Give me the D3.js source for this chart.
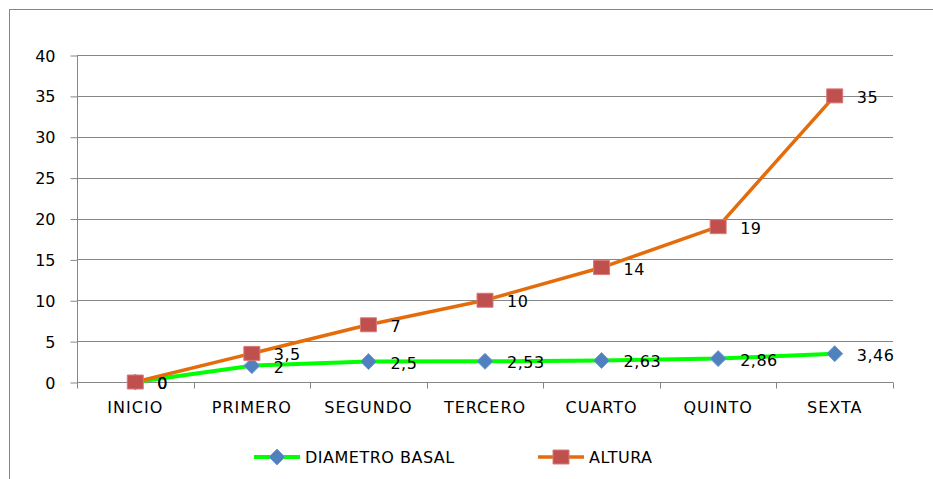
<!DOCTYPE html>
<html>
<head>
<meta charset="utf-8">
<script src="https://cdn.jsdelivr.net/npm/d3@7"></script>
<style>
  body { margin: 0; background: #fff; }
  svg text { font-family: "DejaVu Sans", Verdana, sans-serif; font-size: 16px; fill: #000; }
</style>
</head>
<body>
<svg id="chart" width="933" height="479"></svg>
<script>
// data
var etapas = ["INICIO", "PRIMERO", "SEGUNDO", "TERCERO", "CUARTO", "QUINTO", "SEXTA"];
var diametroBasal = [0, 2, 2.5, 2.53, 2.63, 2.86, 3.46];
var altura = [0, 3.5, 7, 10, 14, 19, 35];
var yTicks = [0, 5, 10, 15, 20, 25, 30, 35, 40];

var margin = {top: 55, right: 40, bottom: 97, left: 77};
var width = 933, height = 479;

var palette = {
    grid: "#868686",
    green: "#00ff00",
    orange: "#e46c0a",
    blue: "#4f81bd",
    red: "#c0504d",
};

var svg = d3.select("#chart");

// outer chart frame (only top / left visible)
svg.append("rect")
    .attr("x", 9.5).attr("y", 9.5)
    .attr("width", 1000).attr("height", 600)
    .attr("fill", "none")
    .attr("stroke", palette.grid);

var g = svg.append("g").attr("transform", `translate(${margin.left},${margin.top})`);
var w = width - margin.left - margin.right;
var h = height - margin.top - margin.bottom;

var x = d3.scaleBand().domain(etapas).range([0, w]);
var y = d3.scaleLinear().domain([0, 40]).range([h, 0]);

// horizontal grid
g.append("g")
    .selectAll("line")
    .data(yTicks.slice(1))
    .enter().append("line")
    .attr("x1", 0).attr("x2", w)
    .attr("y1", d => Math.round(y(d)) + 0.5).attr("y2", d => Math.round(y(d)) + 0.5)
    .attr("stroke", palette.grid);

// y axis
var yAxis = g.append("g")
    .attr("transform", "translate(0.5,0.5)")
    .call(d3.axisLeft(y).tickValues(yTicks).tickSize(7).tickPadding(15));
yAxis.select(".domain").attr("stroke", palette.grid).attr("d", `M0,${h}V0`);
yAxis.selectAll(".tick line").attr("stroke", palette.grid);
yAxis.selectAll("text").style("font-size", "16px").attr("dy", "0.35em");

// x axis, ticks on category boundaries
var xAxis = g.append("g").attr("transform", `translate(0,${Math.round(h) + 0.5})`);
xAxis.append("line").attr("x1", 0).attr("x2", w).attr("stroke", palette.grid);
xAxis.selectAll(".bt")
    .data(d3.range(etapas.length + 1))
    .enter().append("line")
    .attr("x1", i => Math.round(i * x.step()) + 0.5)
    .attr("x2", i => Math.round(i * x.step()) + 0.5)
    .attr("y1", 0).attr("y2", 6)
    .attr("stroke", palette.grid);
xAxis.selectAll("text")
    .data(etapas)
    .enter().append("text")
    .attr("x", d => x(d) + x.bandwidth() / 2)
    .attr("y", 30)
    .attr("text-anchor", "middle")
    .style("letter-spacing", "1px")
    .text(d => d);

var cx = (d, i) => x(etapas[i]) + x.bandwidth() / 2;
var line = d3.line().x(cx).y(d => y(d));
var fmt = v => String(v).replace(".", ",");

function drawSeries(values, lineColor, lineWidth, marker) {
    var s = g.append("g");
    s.append("path")
        .datum(values)
        .attr("d", line)
        .attr("fill", "none")
        .attr("stroke", lineColor)
        .attr("stroke-width", lineWidth)
        .attr("stroke-linejoin", "round");
    s.selectAll(".m")
        .data(values)
        .enter().append("path")
        .attr("transform", (d, i) => `translate(${cx(d, i)},${y(d)})`)
        .attr("d", marker.path)
        .attr("fill", marker.color)
        .attr("stroke", marker.stroke)
        .attr("stroke-width", 1);
    s.selectAll(".lbl")
        .data(values)
        .enter().append("text")
        .attr("x", (d, i) => cx(d, i) + 22)
        .attr("y", d => y(d) + 7)
        .style("letter-spacing", "0.5px")
        .text(fmt);
}

var diamond = {path: "M0,-8L8,0L0,8L-8,0Z", color: palette.blue, stroke: "#6f9bd0"};
var square = {path: "M-8,-7H8V7H-8Z", color: palette.red, stroke: "#d77a78"};

drawSeries(diametroBasal, palette.green, 4, diamond);
drawSeries(altura, palette.orange, 3.5, square);

// legend
var legend = svg.append("g").attr("transform", "translate(0,457)");
var items = [
    {name: "DIAMETRO BASAL", x: 254, color: palette.green, w: 4, m: diamond},
    {name: "ALTURA", x: 538, color: palette.orange, w: 3.5, m: square},
];
items.forEach(it => {
    legend.append("line")
        .attr("x1", it.x).attr("x2", it.x + 46)
        .attr("stroke", it.color).attr("stroke-width", it.w);
    legend.append("path")
        .attr("transform", `translate(${it.x + 23},0)`)
        .attr("d", it.m.path)
        .attr("fill", it.m.color)
        .attr("stroke", it.m.stroke);
    legend.append("text")
        .attr("x", it.x + 51).attr("y", 6)
        .style("letter-spacing", "0.5px")
        .text(it.name);
});
</script>
</body>
</html>
